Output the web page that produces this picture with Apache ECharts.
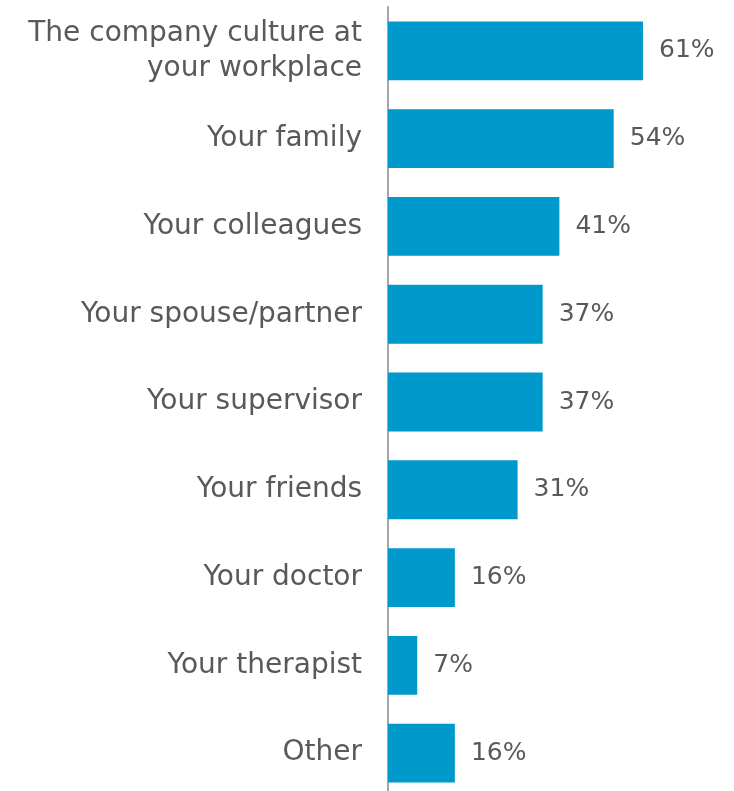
<!DOCTYPE html>
<html><head><meta charset="utf-8">
<script src="https://cdn.jsdelivr.net/npm/echarts@6/dist/echarts.min.js"></script>
<style>html,body{margin:0;padding:0;background:#fff}#c{width:734px;height:791px}</style>
</head><body><div id="c"></div>
<script>
const categories = ["The company culture at\nyour workplace","Your family","Your colleagues","Your spouse/partner","Your supervisor","Your friends","Your doctor","Your therapist","Other"];
const values = [61,54,41,37,37,31,16,7,16];
const chart = echarts.init(document.getElementById('c'));
const font = 'DejaVu Sans';
chart.setOption({
  animation:false,
  grid:{left:388,top:7,width:334.4,height:790,containLabel:false,outerBoundsMode:'none'},
  xAxis:{type:'value',min:0,max:80,show:false},
  yAxis:{type:'category',inverse:true,data:categories,
    axisLine:{show:true,lineStyle:{color:'#a6a6a6',width:2}},
    axisTick:{show:false},
    axisLabel:{margin:26,color:'#595959',fontFamily:font,fontSize:28,lineHeight:35,align:'right'}},
  series:[{type:'bar',data:values,barCategoryGap:'33%',
    itemStyle:{color:'#0099cc'},
    label:{show:true,position:'right',distance:16,formatter:'{c}%',color:'#595959',fontFamily:font,fontSize:25}}]
});
</script></body></html>
